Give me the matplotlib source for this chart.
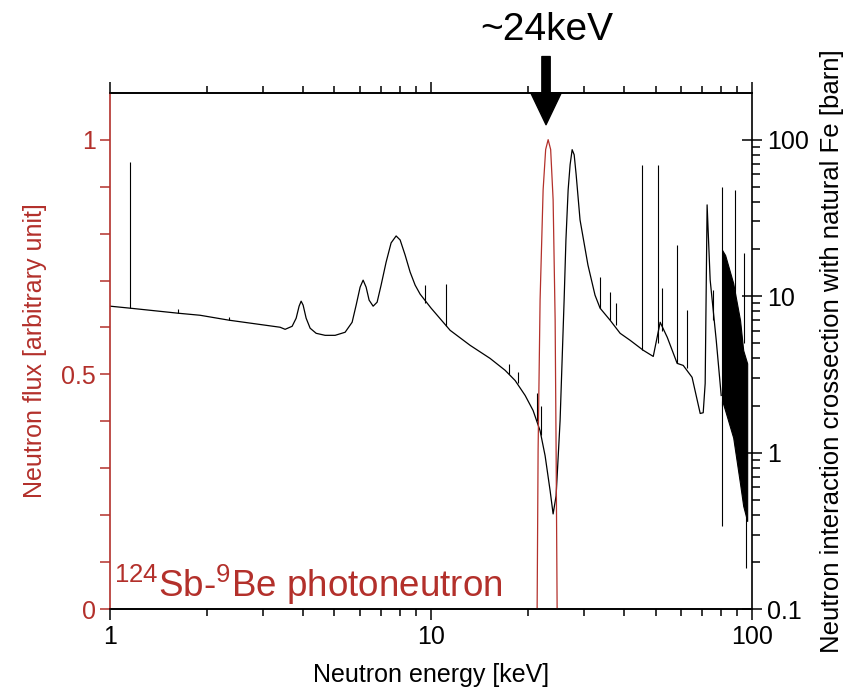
import matplotlib.pyplot as plt
import numpy as np

plt.rcParams['font.family'] = ['Liberation Sans', 'DejaVu Sans']
plt.rcParams['mathtext.default'] = 'regular'

RED = '#b3302b'

# Fe total cross section (barn) vs neutron energy (keV)
xs_energy = [1.00, 1.154, 1.63, 1.907, 2.349, 3.385, 3.509, 3.690, 3.798, 3.879,
             3.936, 3.993, 4.080, 4.199, 4.384, 4.675, 5.023, 5.396, 5.674, 5.840,
             6.009, 6.140, 6.273, 6.410, 6.597, 6.788, 6.985, 7.241, 7.505, 7.780,
             8.007, 8.299, 8.602, 8.917, 9.242, 10.0, 11.46, 13.23, 15.27, 17.00,
             18.27, 19.63, 20.78, 21.85, 22.65, 23.48, 23.99, 24.51, 25.22, 25.96,
             26.3, 26.72, 27.1, 27.50, 27.9, 28.30, 29.1, 30.8, 32.4, 33.6,
             36.1, 38.8, 41.7, 45.8, 49.2, 51.7, 54.4, 58.4, 61.0, 65.0,
             68.9, 70.4, 71.4, 72.4, 74.0, 77.3, 80.1]
xs_barn = [8.63, 8.38, 7.78, 7.55, 7.02, 6.33, 6.14, 6.42, 7.23, 8.63,
           9.29, 8.76, 7.23, 6.24, 5.79, 5.62, 5.62, 5.88, 6.81, 8.76,
           11.42, 12.66, 11.42, 9.43, 8.63, 9.15, 11.76, 16.5, 21.9, 24.25,
           22.86, 18.3, 14.25, 11.76, 10.30, 8.38, 6.05, 4.85, 4.00, 3.36,
           2.89, 2.32, 1.86, 1.38, 0.956, 0.571, 0.406, 0.530, 1.60, 9.43,
           22.9, 47.8, 69.2, 86.3, 80.1, 59.7, 30.7, 15.8, 10.15, 8.38,
           7.02, 5.79, 5.22, 4.51, 4.12, 6.81, 5.46, 3.72, 3.61, 3.03,
           1.78, 1.80, 2.77, 38.3, 12.7, 5.22, 2.32]

# narrow resonances: energy, low end, high end of the line
spike_energy = [1.154, 1.63, 2.349, 9.58, 11.1, 17.5, 18.6, 21.3, 22.0,
                33.6, 36.1, 37.7, 45.4, 50.9, 52.4, 58.4, 62.7, 75.6,
                80.65, 80.65, 88.5, 94.4, 95.5]
spike_lo = [8.38, 7.78, 7.02, 9.0, 6.4, 3.2, 2.8, 1.6, 1.3,
            8.38, 7.02, 6.52, 4.51, 5.0, 6.0, 3.72, 3.5, 7.0,
            0.34, 2.0, 10.0, 5.0, 0.183]
spike_hi = [72.3, 8.3, 7.4, 11.8, 12.0, 3.7, 3.3, 2.4, 2.0,
            13.2, 10.6, 9.02, 69.2, 69.2, 11.3, 21.2, 8.13, 10.9,
            2.15, 50.0, 47.8, 18.9, 3.0]

# unresolved region above ~80 keV: envelope of the oscillations
band_energy = [80.65, 82.4, 87.3, 91.7, 93.8, 96.5]
band_hi = [19.7, 18.3, 12.1, 7.02, 4.51, 3.72]
band_lo = [2.15, 1.86, 1.248, 0.633, 0.457, 0.366]

# Sb-Be photoneutron line
flux_energy = [21.39, 21.54, 21.85, 22.33, 22.74, 23.15, 23.57, 23.99, 24.34, 24.51, 24.69]
flux_value = [0.0, 0.339, 0.659, 0.893, 0.979, 1.0, 0.979, 0.872, 0.616, 0.339, 0.0]

fig = plt.figure(figsize=(8.47, 6.97), dpi=100)
ax = fig.add_axes([0.130, 0.126, 0.758, 0.741])
ax2 = ax.twinx()

ax2.plot(xs_energy, xs_barn, color='black', lw=0.9)
ax2.vlines(spike_energy, spike_lo, spike_hi, color='black', lw=0.8)
ax2.fill_between(band_energy, band_lo, band_hi, color='black', lw=0.8)
ax2.set_yscale('log')
ax2.set_ylim(0.1, 10 ** 2.3)

ax.plot(flux_energy, flux_value, color=RED, lw=0.9)
ax.set_zorder(ax2.get_zorder() + 1)
ax.patch.set_visible(False)

ax.set_xscale('log')
ax.set_xlim(1, 100)
ax.set_ylim(0, 1.1)
ax.set_yticks([0, 0.5, 1])
ax.set_yticklabels(['0', '0.5', '1'])
ax.set_yticks(np.arange(0.1, 1.1, 0.1), minor=True)
ax.set_xticks([1, 10, 100])
ax.set_xticklabels(['1', '10', '100'])

ax2.set_yticks([0.1, 1, 10, 100])
ax2.set_yticklabels(['0.1', '1', '10', '100'])

ax.spines['left'].set_color(RED)
ax.spines['right'].set_visible(False)
ax2.spines['left'].set_visible(False)
for sp in ['left', 'right', 'top', 'bottom']:
    ax.spines[sp].set_linewidth(1.2)
    ax2.spines[sp].set_linewidth(1.2)

ax.tick_params(axis='x', which='both', top=True, direction='out', labelsize=18, width=1.1)
ax.tick_params(axis='x', which='major', length=8)
ax.tick_params(axis='x', which='minor', length=5)
ax.tick_params(axis='y', which='both', colors=RED, labelsize=18, width=1.1, length=7)
ax2.tick_params(axis='y', which='major', direction='inout', length=14, labelsize=18, width=1.1)
ax2.tick_params(axis='y', which='minor', direction='out', length=6, width=1.1)

ax.set_xlabel('Neutron energy [keV]', fontsize=18, labelpad=10)
ax.set_ylabel('Neutron flux [arbitrary unit]', fontsize=18, color=RED, labelpad=10)
ax2.set_ylabel('Neutron interaction crossection with natural Fe [barn]', fontsize=18.5, labelpad=8)

ax.text(1.03, 0.005, r'$^{124}$Sb-$^{9}$Be photoneutron', color=RED, fontsize=26.5,
        transform=ax.get_xaxis_transform(), va='bottom', ha='left')

ax.annotate('', xy=(22.8, 0.938), xytext=(22.8, 1.07),
            xycoords=ax.get_xaxis_transform(), textcoords=ax.get_xaxis_transform(),
            arrowprops=dict(width=6, headwidth=22, headlength=23, color='black'),
            annotation_clip=False)
ax.text(23.0, 1.122, '~24keV', fontsize=28, ha='center', va='center',
        transform=ax.get_xaxis_transform())

fig.savefig('out.png', dpi=100)
